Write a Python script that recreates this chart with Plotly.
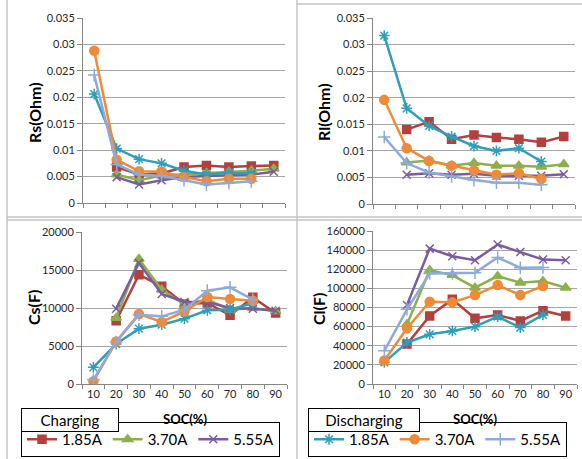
import plotly.graph_objects as go

W, H = 582, 459

soc_all = ["10", "20", "30", "40", "50", "60", "70", "80", "90"]
soc_chg = ["20", "30", "40", "50", "60", "70", "80", "90"]
soc_dis = ["10", "20", "30", "40", "50", "60", "70", "80"]

# Rs (Ohm)
rs_c185 = [0.0068, 0.0054, 0.0056, 0.0068, 0.0071, 0.0068, 0.0070, 0.0071]
rs_c370 = [0.0054, 0.0043, 0.0052, 0.0054, 0.0057, 0.0059, 0.0061, 0.0065]
rs_c555 = [0.0049, 0.0035, 0.0043, 0.0049, 0.0051, 0.0052, 0.0054, 0.0059]
rs_d185 = [0.0206, 0.0103, 0.0083, 0.0075, 0.0061, 0.0054, 0.0057, 0.0056]
rs_d370 = [0.0288, 0.0082, 0.0060, 0.0059, 0.0049, 0.0041, 0.0046, 0.0046]
rs_d555 = [0.0242, 0.0073, 0.0054, 0.0051, 0.0043, 0.0035, 0.0038, 0.0041]

# Rl (Ohm)
rl_c185 = [0.0140, 0.0155, 0.0122, 0.0130, 0.0125, 0.0122, 0.0116, 0.0127]
rl_c370 = [0.0078, 0.0082, 0.0072, 0.0077, 0.0072, 0.0072, 0.0070, 0.0075]
rl_c555 = [0.0055, 0.0058, 0.0055, 0.0057, 0.0053, 0.0053, 0.0053, 0.0056]
rl_d185 = [0.0317, 0.0180, 0.0147, 0.0127, 0.0109, 0.0100, 0.0105, 0.0080]
rl_d370 = [0.0196, 0.0105, 0.0081, 0.0072, 0.0063, 0.0055, 0.0058, 0.0047]
rl_d555 = [0.0126, 0.0077, 0.0059, 0.0052, 0.0045, 0.0040, 0.0040, 0.0036]

# Cs (F)
cs_c185 = [8330, 14390, 12850, 10530, 10660, 9030, 11400, 9340]
cs_c370 = [8680, 16450, 12410, 10440, 11100, 9780, 10000, 9560]
cs_c555 = [9910, 15920, 11840, 10790, 10790, 10000, 9910, 9650]
cs_d185 = [2190, 5260, 7280, 7800, 8600, 9700, 9780, 10660]
cs_d370 = [350, 5600, 9200, 8160, 9560, 11450, 11180, 10960]
cs_d555 = [570, 5530, 9120, 8900, 9780, 12280, 12720, 11100]

# Cl (F)
cl_c185 = [41700, 71200, 88500, 68700, 72200, 66000, 76700, 71200]
cl_c370 = [62500, 119000, 113900, 100700, 112800, 105900, 107600, 100700]
cl_c555 = [82600, 141600, 133600, 129500, 145800, 138100, 130100, 129500]
cl_d185 = [22560, 43400, 52000, 55500, 60000, 70500, 59000, 72200]
cl_d370 = [24600, 58300, 86100, 85400, 93000, 103400, 93000, 102400]
cl_d555 = [34700, 78100, 115600, 115600, 116300, 132300, 121500, 121800]

r_ticks = [0, 0.005, 0.01, 0.015, 0.02, 0.025, 0.03, 0.035]
r_ticklabels = ["0", "0.005", "0.01", "0.015", "0.02", "0.025", "0.03", "0.035"]
cs_ticks = [0, 5000, 10000, 15000, 20000]
cs_ticklabels = ["0", "5000", "10000", "15000", "20000"]
cl_ticks = [0, 20000, 40000, 60000, 80000, 100000, 120000, 140000, 160000]
cl_ticklabels = ["0", "20000", "40000", "60000", "80000", "100000", "120000", "140000", "160000"]

series_names = ["1.85A", "3.70A", "5.55A"]
group_titles = ["Charging", "Discharging"]
y_titles = ["Rs(Ohm)", "Rl(Ohm)", "Cs(F)", "Cl(F)"]
x_title = "SOC(%)"

FONT = "Lato"
styles = {
    "c185": dict(color="#B3403D", symbol="square", size=8),
    "c370": dict(color="#8DB04B", symbol="triangle-up", size=9),
    "c555": dict(color="#7B5C9E", symbol="x-thin-open", size=8),
    "d185": dict(color="#2E9EBB", symbol="asterisk-open", size=9),
    "d370": dict(color="#EF8A36", symbol="circle", size=9),
    "d555": dict(color="#8EAADB", symbol="cross-thin-open", size=9),
}

panels = [
    ("x", "y", [rs_c185, rs_c370, rs_c555], [rs_d185, rs_d370, rs_d555]),
    ("x2", "y2", [rl_c185, rl_c370, rl_c555], [rl_d185, rl_d370, rl_d555]),
    ("x3", "y3", [cs_c185, cs_c370, cs_c555], [cs_d185, cs_d370, cs_d555]),
    ("x4", "y4", [cl_c185, cl_c370, cl_c555], [cl_d185, cl_d370, cl_d555]),
]

fig = go.Figure()
for pi, (xa, ya, chg, dis) in enumerate(panels):
    for key, vals, name in zip(["c185", "c370", "c555"], chg, series_names):
        s = styles[key]
        fig.add_trace(go.Scatter(
            x=soc_chg, y=vals, xaxis=xa, yaxis=ya, name=name, mode="lines+markers",
            line=dict(color=s["color"], width=2.5),
            marker=dict(symbol=s["symbol"], size=s["size"], color=s["color"],
                        line=dict(color=s["color"], width=1.5)),
            legend="legend", showlegend=(pi == 0)))
    for key, vals, name in zip(["d185", "d370", "d555"], dis, series_names):
        s = styles[key]
        fig.add_trace(go.Scatter(
            x=soc_dis, y=vals, xaxis=xa, yaxis=ya, name=name, mode="lines+markers",
            line=dict(color=s["color"], width=2.5),
            marker=dict(symbol=s["symbol"], size=s["size"], color=s["color"],
                        line=dict(color=s["color"], width=1.5)),
            legend="legend2", showlegend=(pi == 0)))

def px(x0, x1):
    return [x0 / W, x1 / W]

def py(ytop, ybot):
    return [(H - ybot) / H, (H - ytop) / H]

GRID = "#A6A6A6"
AX = "#868686"
TICKFONT = dict(family=FONT, size=11, color="#262626")

def xaxis(domain, anchor, labels):
    return dict(domain=domain, anchor=anchor, type="category",
                categoryorder="array", categoryarray=soc_all,
                range=[-0.5, 8.5], showgrid=False, showline=True, linecolor=AX,
                linewidth=1, ticks="outside", tickson="boundaries", ticklen=4,
                tickcolor=AX, showticklabels=labels, tickfont=TICKFONT, zeroline=False,
                automargin=False)

def yaxis(domain, anchor, rng, tv, tt):
    return dict(domain=domain, anchor=anchor, range=rng, tickvals=tv, ticktext=tt,
                showgrid=True, gridcolor=GRID, gridwidth=1, showline=True,
                linecolor=AX, linewidth=1, ticks="outside", ticklen=5,
                tickcolor=AX, tickfont=TICKFONT, zeroline=False, automargin=False)

legend_common = dict(orientation="h", xanchor="left", y=(H - 457) / H,
                     yanchor="bottom", bordercolor="#000000", borderwidth=1,
                     bgcolor="white", font=dict(family=FONT, size=15, color="#000"),
                     itemwidth=30, tracegroupgap=0)

fig.update_layout(
    width=W, height=H, margin=dict(l=0, r=0, t=0, b=0, autoexpand=False),
    paper_bgcolor="white", plot_bgcolor="white",
    font=dict(family=FONT, color="#000000"),
    xaxis=xaxis(px(83, 285), "y", False),
    yaxis=yaxis(py(18, 203), "x", [0, 0.035], r_ticks, r_ticklabels),
    xaxis2=xaxis(px(373, 575), "y2", False),
    yaxis2=yaxis(py(18, 204), "x2", [0, 0.035], r_ticks, r_ticklabels),
    xaxis3=xaxis(px(82, 287), "y3", True),
    yaxis3=yaxis(py(232, 384), "x3", [0, 20000], cs_ticks, cs_ticklabels),
    xaxis4=xaxis(px(373, 577), "y4", True),
    yaxis4=yaxis(py(231, 384), "x4", [0, 160000], cl_ticks, cl_ticklabels),
    legend=dict(x=21 / W, **legend_common),
    legend2=dict(x=308 / W, **legend_common),
)

shapes = []
LC = "#C4C4C4"
def line(x0, y0, x1, y1):
    shapes.append(dict(type="line", xref="paper", yref="paper",
                       x0=x0 / W, x1=x1 / W, y0=(H - y0) / H, y1=(H - y1) / H,
                       line=dict(color=LC, width=1.5)))
line(7, 0, 7, 459)
line(297, 0, 297, 459)
line(7, 217, 582, 217)
line(7, 220, 582, 220)
line(297, 4, 582, 4)
fig.update_layout(shapes=shapes)

ann = []
def text(t, x, y, size, bold=False, angle=0):
    ann.append(dict(text=f"<b>{t}</b>" if bold else t, x=x / W, y=(H - y) / H,
                    xref="paper", yref="paper", showarrow=False, textangle=angle,
                    xanchor="center", yanchor="middle",
                    font=dict(family=FONT, size=size, color="#000")))
text(y_titles[0], 35, 113, 16, True, -90)
text(y_titles[1], 324, 112, 16, True, -90)
text(y_titles[2], 33, 308, 16, True, -90)
text(y_titles[3], 318, 309, 16, True, -90)
text(x_title, 185, 419, 13, True)
text(x_title, 475, 419, 13, True)

def titlebox(t, x0, x1, y0, y1):
    ann.append(dict(text=t, x=x0 / W, y=(H - y1) / H, xref="paper", yref="paper",
                    xanchor="left", yanchor="bottom", showarrow=False,
                    width=x1 - x0 - 2, height=y1 - y0 - 2, borderpad=0,
                    bordercolor="#000", borderwidth=1, bgcolor="white", align="center",
                    valign="middle", font=dict(family=FONT, size=15, color="#000")))
titlebox(group_titles[0], 21, 119, 408, 432)
titlebox(group_titles[1], 308, 420, 408, 432)
fig.update_layout(annotations=ann)

fig.write_html("out.html", config={"displayModeBar": False},
               post_script="document.body.style.margin='0';document.body.style.overflow='hidden';")
